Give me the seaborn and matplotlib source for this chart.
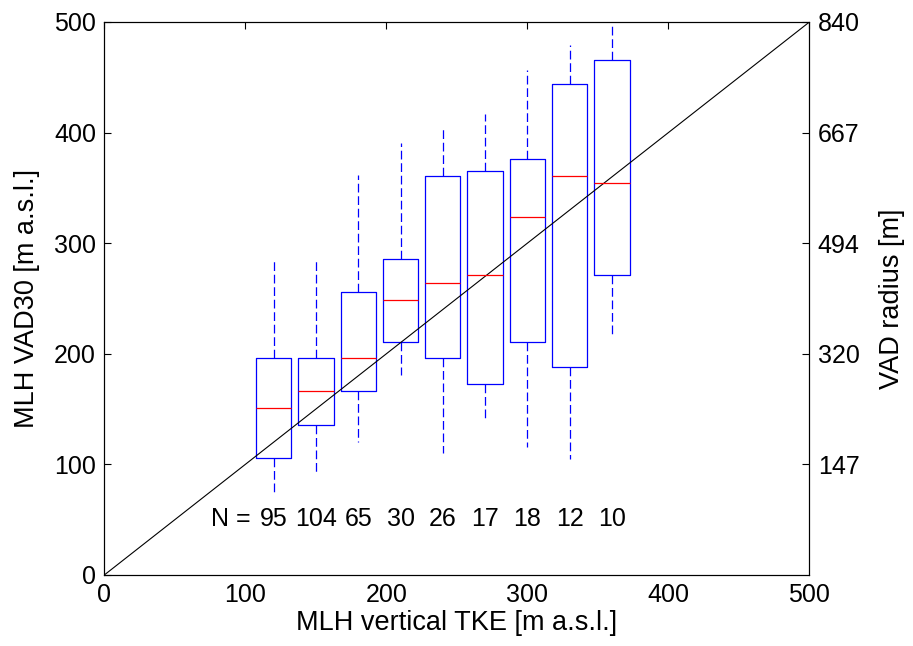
import numpy as np
import pandas as pd
import matplotlib
matplotlib.use("Agg")
import matplotlib.pyplot as plt
import seaborn as sns

# Data
positions = [120, 150, 180, 210, 240, 270, 300, 330, 360]
whisker_low = [75, 90, 120, 181, 110, 139, 116, 105, 215]
q1 = [106, 136, 166, 211, 196, 173, 211, 188, 271]
median = [151, 166, 196, 249, 264, 271, 324, 361, 354]
q3 = [196, 196, 256, 286, 361, 365, 376, 444, 466]
whisker_high = [286, 286, 362, 391, 404, 417, 457, 479, 500]
counts = [95, 104, 65, 30, 26, 17, 18, 12, 10]
right_tick_labels = ["147", "320", "494", "667", "840"]
right_tick_pos = [100, 200, 300, 400, 500]
xticks = [0, 100, 200, 300, 400, 500]
yticks = [0, 100, 200, 300, 400, 500]

rows = []
for p, a, b, c, d, e in zip(positions, whisker_low, q1, median, q3, whisker_high):
    for v in (a, b, c, d, e):
        rows.append({"tke": p, "vad": v})
df = pd.DataFrame(rows)

sns.set_style("white")
plt.rcParams["font.family"] = ["Liberation Sans", "DejaVu Sans"]
plt.rcParams["xtick.direction"] = "in"
plt.rcParams["ytick.direction"] = "in"
plt.rcParams["text.color"] = "black"
plt.rcParams["axes.labelcolor"] = "black"
plt.rcParams["xtick.color"] = "black"
plt.rcParams["ytick.color"] = "black"

fig = plt.figure(figsize=(9.13, 6.46), dpi=100)
ax = fig.add_axes([0.1143, 0.110, 0.7723, 0.856])

fs = 18
fl = 19.5
lw = 0.9
sns.boxplot(data=df, x="tke", y="vad", native_scale=True, whis=(0, 100),
            width=25 / 30, fill=False, linecolor="blue", linewidth=lw,
            showcaps=False, ax=ax,
            medianprops=dict(color="red", linewidth=lw),
            whiskerprops=dict(color="blue", linestyle=(0, (7, 3)), linewidth=lw),
            boxprops=dict(color="blue", linewidth=lw))

ax.plot([0, 500], [0, 500], color="black", linewidth=0.8)

ax.text(104, 51, "N =", ha="right", va="center", fontsize=fs, color="black")
for p, n in zip(positions, counts):
    ax.text(p, 51, str(n), ha="center", va="center", fontsize=fs, color="black")

ax.set_xlim(0, 500)
ax.set_ylim(0, 500)
ax.set_xticks(xticks)
ax.set_yticks(yticks)
ax.tick_params(axis="both", labelsize=fs, length=5, width=0.8, top=True,
               color="black", labelcolor="black")
ax.tick_params(axis="x", pad=6)
ax.tick_params(axis="y", pad=6)
ax.set_xlabel("MLH vertical TKE [m a.s.l.]", fontsize=fl, color="black", labelpad=2)
ax.set_ylabel("MLH VAD30 [m a.s.l.]", fontsize=fl, color="black", labelpad=10)
for s in ax.spines.values():
    s.set_color("black")
    s.set_linewidth(0.8)

ax2 = ax.twinx()
ax2.set_ylim(0, 500)
ax2.set_yticks(right_tick_pos)
ax2.set_yticklabels(right_tick_labels)
ax2.tick_params(axis="y", labelsize=fs, length=5, width=0.8, direction="in",
                pad=6, color="black", labelcolor="black")
ax2.set_ylabel("VAD radius [m]", fontsize=fl, color="black", labelpad=14)
for s in ax2.spines.values():
    s.set_color("black")
    s.set_linewidth(0.8)

fig.savefig("out.png", dpi=100, facecolor="white")
